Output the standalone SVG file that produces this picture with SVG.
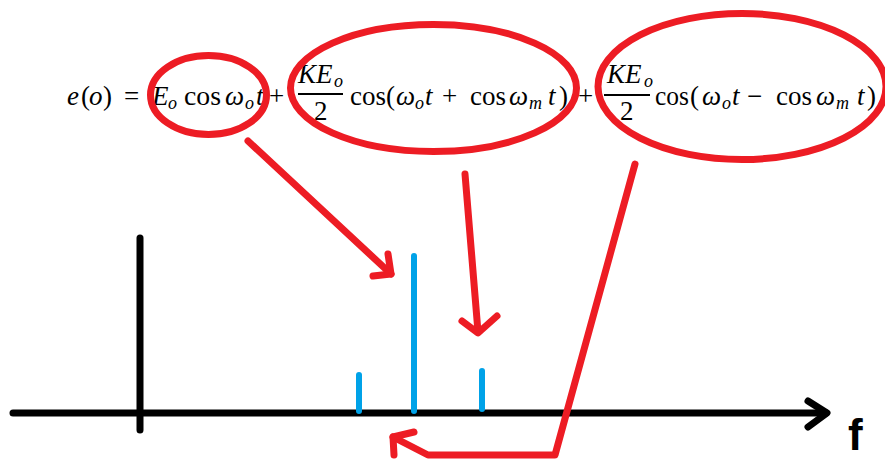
<svg xmlns="http://www.w3.org/2000/svg" width="885" height="459" viewBox="0 0 885 459">
<style>
.eq{font-family:"Liberation Serif","DejaVu Serif",serif;font-size:27px;fill:#000}
.i{font-style:italic}
.sub{font-family:"Liberation Serif","DejaVu Serif",serif;font-size:18px;font-style:italic;fill:#000}
.red{fill:none;stroke:#ED1C24;stroke-width:7;stroke-linecap:round;stroke-linejoin:round}
.blk{fill:none;stroke:#000;stroke-width:7;stroke-linecap:round;stroke-linejoin:round}
.blue{fill:none;stroke:#00A2E8;stroke-width:6;stroke-linecap:round}
.bar{stroke:#000;stroke-width:2}
</style>
<rect width="885" height="459" fill="#fff"/>
<g id="equation">
  <text class="eq" y="105"><tspan class="i" x="67">e</tspan><tspan x="81">(</tspan><tspan class="i" x="89">o</tspan><tspan x="103">)</tspan><tspan x="124">=</tspan></text>
  <g id="term1">
    <text class="eq i" x="152" y="105">E</text>
    <text class="sub" x="168" y="109">o</text>
    <text class="eq" x="184" y="105" textLength="37" lengthAdjust="spacingAndGlyphs">cos</text>
    <text class="eq i" x="225" y="105">ω</text>
    <text class="sub" x="245" y="109">o</text>
    <text class="eq i" x="256" y="105">t</text>
  </g>
  <text class="eq" x="269" y="105">+</text>
  <g id="term2">
    <text class="eq i" x="298" y="83">K</text>
    <text class="eq i" x="316" y="83">E</text>
    <text class="sub" x="334" y="87">o</text>
    <line class="bar" x1="298" y1="94" x2="343" y2="94"/>
    <text class="eq" x="314" y="120">2</text>
    <text class="eq" x="350" y="105" textLength="36" lengthAdjust="spacingAndGlyphs">cos</text>
    <text class="eq" x="386" y="105">(</text>
    <text class="eq i" x="396" y="105">ω</text>
    <text class="sub" x="415" y="109">o</text>
    <text class="eq i" x="425" y="105">t</text>
    <text class="eq" x="442" y="105">+</text>
    <text class="eq" x="470" y="105" textLength="36" lengthAdjust="spacingAndGlyphs">cos</text>
    <text class="eq i" x="509" y="105">ω</text>
    <text class="sub" x="529" y="109">m</text>
    <text class="eq i" x="548" y="105">t</text>
    <text class="eq" x="559" y="105">)</text>
  </g>
  <text class="eq" x="578" y="105">+</text>
  <g id="term3">
    <text class="eq i" x="607" y="83">K</text>
    <text class="eq i" x="625" y="83">E</text>
    <text class="sub" x="644" y="87">o</text>
    <line class="bar" x1="604" y1="95" x2="650" y2="95"/>
    <text class="eq" x="620" y="120">2</text>
    <text class="eq" x="655" y="105" textLength="34" lengthAdjust="spacingAndGlyphs">cos</text>
    <text class="eq" x="690" y="105">(</text>
    <text class="eq i" x="702" y="105">ω</text>
    <text class="sub" x="722" y="109">o</text>
    <text class="eq i" x="732" y="105">t</text>
    <text class="eq" x="747" y="105">−</text>
    <text class="eq" x="776" y="105" textLength="36" lengthAdjust="spacingAndGlyphs">cos</text>
    <text class="eq i" x="816" y="105">ω</text>
    <text class="sub" x="836" y="109">m</text>
    <text class="eq i" x="857" y="105">t</text>
    <text class="eq" x="867" y="105">)</text>
  </g>
</g>
<g id="ellipses">
  <ellipse id="ellipse1" class="red" cx="208.5" cy="95" rx="58" ry="39.5"/>
  <ellipse id="ellipse2" class="red" cx="433.5" cy="88" rx="143" ry="63.5"/>
  <ellipse id="ellipse3" class="red" cx="742" cy="86.5" rx="144" ry="73"/>
</g>
<g id="axis">
  <line class="blk" x1="13" y1="413" x2="826" y2="413"/>
  <polyline class="blk" points="808,401 827,413 808,427"/>
  <line class="blk" x1="140" y1="238" x2="140" y2="430"/>
  <text x="848" y="450" font-family="Liberation Sans, Arial, sans-serif" font-weight="bold" font-size="44" fill="#000">f</text>
</g>
<g id="spectrum">
  <line class="blue" x1="359" y1="375" x2="359" y2="411"/>
  <line class="blue" x1="414" y1="256" x2="414" y2="411"/>
  <line class="blue" x1="482" y1="371" x2="482" y2="409"/>
</g>
<g id="connectors">
  <line class="red" x1="248" y1="141" x2="391" y2="274"/>
  <polyline class="red" points="388,254 391,274 373,276"/>
  <line class="red" x1="465" y1="174" x2="478" y2="332"/>
  <polyline class="red" points="462,321 478,333 497,316"/>
  <polyline class="red" points="635,164 555,455 428,455 393,437"/>
  <polyline class="red" points="414,432 393,437 394,455"/>
</g>
</svg>
